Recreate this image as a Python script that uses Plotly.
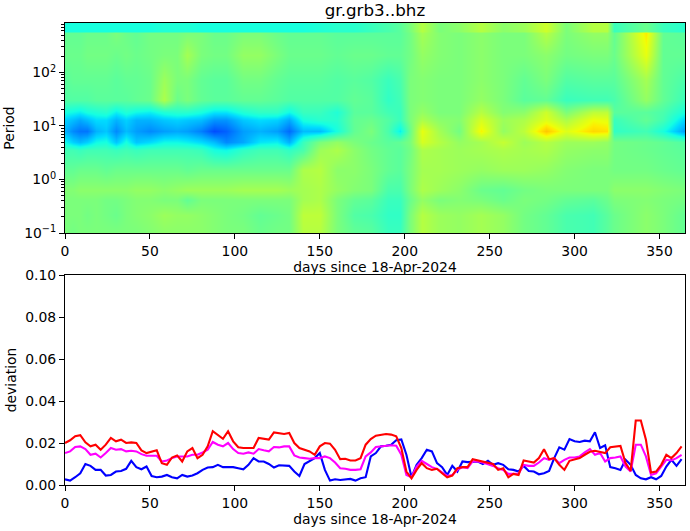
import plotly.graph_objects as go

TITLE = "gr.grb3..bhz"
XLABEL = "days since 18-Apr-2024"

# heatmap grid: columns in days, rows in period; values are colour positions in hundredths
grid_days = [0,5,9,13,18,24,30,36,42,50,58,66,72,80,88,95,105,115,125,132,140,150,160,170,180,190,197,203,210,220,232,245,258,270,283,295,311,319,323,342,352,365]
periods = [0.1,0.217,0.41,0.64,1.5,3.55,5,8.2,12.9,18,30,72,212,547,597,841]

r_p0_1 = [50,49,50,50,50,50,50,50,50,51,52,52,52,52,51,50,50,48,49,49,57,57,50,47,46,42,42,50,57,54,53,55,53,49,47,44,43,46,48,52,50,47]
r_p0_217 = [50,50,50,49,50,49,48,50,51,52,54,53,53,52,51,50,49,47,48,49,58,58,50,45,44,41,41,50,57,54,53,55,53,49,47,44,43,46,48,52,50,47]
r_p0_41 = [50,50,50,50,50,49,49,50,51,51,50,50,47,50,50,50,50,50,50,50,55,56,50,47,46,42,42,48,53,50,51,50,48,50,49,47,46,48,50,51,50,49]
r_p0_64 = [51,51,52,52,52,52,52,52,53,53,52,53,54,54,54,54,55,55,55,54,55,56,53,51,50,44,44,50,56,54,52,48,47,49,50,50,50,50,52,52,51,50]
r_p1_5 = [47,47,48,48,48,47,48,48,48,48,48,48,47,48,48,48,48,48,48,48,56,57,52,52,50,47,46,50,55,55,54,53,54,54,53,51,50,50,49,49,48,47]
r_p3_55 = [43,43,42,43,43,43,42,43,42,43,43,43,43,42,38,37,41,43,43,41,44,54,56,52,49,47,46,49,56,55,54,55,56,55,56,53,52,52,49,48,47,46]
r_p5 = [37,33,31,33,37,38,32,38,32,34,37,37,36,34,31,26,29,35,36,30,42,50,53,50,48,46,47,50,61,57,53,55,59,54,57,54,54,53,49,48,47,45]
r_p8_2 = [30,26,24,24,30,32,26,31,28,26,28,29,28,25,20,22,28,30,28,23,31,31,38,47,50,44,36,48,63,55,49,65,53,58,70,62,68,67,41,43,38,28]
r_p12_9 = [33,31,29,31,34,34,30,33,30,30,32,33,32,31,27,27,32,34,33,29,38,40,40,47,48,45,42,50,56,52,51,61,54,56,62,56,64,63,42,47,43,33]
r_p18 = [38,37,36,38,39,40,36,39,37,36,39,40,40,38,35,35,39,41,41,37,42,42,39,46,46,43,42,50,53,50,50,57,51,52,60,50,58,58,46,46,44,38]
r_p30 = [45,45,45,45,46,46,46,46,47,48,56,48,50,47,46,46,47,47,46,45,45,45,45,47,46,41,43,50,51,50,50,53,50,46,47,42,43,43,44,53,47,42]
r_p72 = [46,47,47,47,47,47,46,47,47,48,54,50,50,47,46,46,49,49,47,46,46,46,45,46,45,42,44,50,51,50,50,52,50,47,50,45,46,46,46,55,47,44]
r_p212 = [48,48,48,49,49,49,48,49,48,49,50,50,55,50,49,49,53,53,50,48,48,48,47,48,48,47,47,49,53,51,50,52,50,50,52,49,50,50,48,63,47,47]
r_p547 = [47,47,47,48,48,48,50,48,47,49,49,49,50,50,48,48,50,50,48,47,47,47,46,46,46,46,46,49,55,51,50,52,50,50,57,50,53,53,47,66,47,46]
r_p597 = [38,38,38,38,38,38,38,38,38,38,39,39,39,38,38,38,38,38,38,38,38,39,40,40,42,44,46,50,57,50,52,57,52,54,60,50,57,57,42,48,42,40]
r_p841 = [38,38,38,38,38,38,38,38,38,38,39,39,39,38,38,38,38,38,38,38,38,39,40,40,42,44,46,50,57,50,52,57,52,54,60,50,57,57,42,48,42,40]
grid_rows = [r_p0_1,r_p0_217,r_p0_41,r_p0_64,r_p1_5,r_p3_55,r_p5,r_p8_2,r_p12_9,r_p18,r_p30,r_p72,r_p212,r_p547,r_p597,r_p841]

# deviation curves, one sample every 3 days, values in thousandths
days = list(range(0, 364, 3))
blue_dev = [2.7,2.1,3.7,5.6,10,9.1,7.2,7.2,4.5,4.8,6.4,6.7,7.7,11.5,8.5,7.5,8.8,4.3,3.7,4,4.8,3.7,3.2,4.8,4,4.5,5.6,7.2,8.3,8.5,9.6,8.5,8.5,8.5,8,7.5,9.6,12.8,11.2,11.2,10,8.3,9.4,9.1,9.1,6.4,4.3,10,11.5,12.8,15.2,7.2,2.1,2.7,2.4,2.7,2.9,2.1,3.2,3.7,13.6,15.2,18.4,
18.7,19.2,21.3,21.7,14.4,3.7,9.6,12.8,16.8,16,10.4,8.5,4.8,9.1,6.4,11.2,10.9,11.2,11.2,10,11.5,9.6,10.4,9.6,7.5,7.2,6.4,9.1,6.7,6.4,5.1,5.6,6.7,12.8,17.9,16.8,21.9,20.8,20.5,21.1,20.8,25.1,17.6,18.9,8.5,8,7.2,12,9.6,4.8,3.2,2.7,3.7,2.7,4.3,8.8,12,9.1,12.3,15.2][:len(days)]
magenta_dev = [15.2,16,18.1,18.4,17.1,14.4,14.9,13.1,15.2,17.6,16.8,17.1,16,16.3,16,14.7,13.9,13.9,13.9,11.2,11.7,12.8,13.6,13.6,13.6,14.4,14.4,15.5,16.8,20.5,19.2,18.4,20,17.1,15.2,14.9,15.5,14.9,17.1,16.5,16,18.1,17.9,18.4,18.4,14.1,13.1,12.8,12.5,12.8,12.8,13.6,12.8,10.7,8,7.7,7.2,7.2,7.5,13.6,15.5,18.1,
18.4,18.7,18.9,18.7,14.4,4.8,3.7,8.8,11.5,10,8.5,7.7,5.9,4.3,4.8,7.2,8.5,8,11.2,11.2,10.7,10,9.1,8,7.2,5.3,5.3,5.3,9.6,9.1,9.1,10.7,12.8,12,12.8,10.4,12,13.1,13.1,13.6,15.5,17.1,14.4,15.2,11.2,12.8,13.1,13.6,8.8,6.4,19.2,19.2,13.6,4.8,5.6,9.1,12,11.7,12.8,14.4,16][:len(days)]
red_dev = [20,21.3,23.2,23.7,20.3,18.4,19.2,16.8,19.2,22.4,20.8,21.6,20,20.3,20,16.5,15.2,16,16.5,10.4,9.6,13.1,14.1,11.2,16,17.6,12.8,14.4,18.4,25.6,24,22,25.6,20.8,18,17.6,17.6,17.6,22.4,22,21.6,25,24.8,24.3,24.8,20,17.6,16.8,16,14.4,18.4,20,19.7,16.8,12.3,12.5,11.7,11.7,12.8,19.2,21.9,23.5,
24,24.3,24,23.2,17.6,6.4,3.2,7.2,10.4,8,7.2,7.7,5.6,3.7,4.5,8,8.5,8.5,12.3,11.7,11.2,10.7,10,7.2,8,3.7,5.3,4.8,11.7,11.2,10.7,12.8,17,12.3,12.8,9.6,7.2,11.5,12.3,12.8,14.4,15.8,16.3,15.8,15.2,18,18.4,18.6,10.4,6.7,30.7,30.7,21.6,5.9,6.4,9.6,14.4,12.8,15.2,18.4,20.5][:len(days)]

xticks = [0,50,100,150,200,250,300,350]
ytop_vals = [0.1,1,10,100]
ytop_text = ["10<sup>\u22121</sup>","10<sup>0</sup>","10<sup>1</sup>","10<sup>2</sup>"]
ytop_minor = [m*10**e for e in (-1,0,1,2) for m in (2,3,4,5,6,7,8,9) if m*10**e < 840]
ybot_vals = [0,0.02,0.04,0.06,0.08,0.1]
ybot_text = ["0.00","0.02","0.04","0.06","0.08","0.10"]

# matplotlib-style jet
JET = [[0,"rgb(0,0,127)"],[0.11,"rgb(0,0,255)"],[0.125,"rgb(0,0,255)"],[0.34,"rgb(0,219,255)"],[0.375,"rgb(20,255,226)"],
       [0.64,"rgb(238,255,8)"],[0.66,"rgb(255,234,0)"],[0.89,"rgb(255,30,0)"],[0.91,"rgb(232,0,0)"],[1,"rgb(127,0,0)"]]

W,H = 690,531
FONT = dict(family="DejaVu Sans", size=13.9, color="black")
TICK = dict(family="DejaVu Sans", size=13.9, color="black")

axis = dict(showgrid=False, zeroline=False, showline=True, mirror=True, linecolor="black", linewidth=1.1,
            ticks="outside", ticklen=5, tickwidth=1.1, tickcolor="black", tickfont=TICK)

fig = go.Figure()
fig.add_trace(go.Heatmap(x=grid_days, y=periods, z=[[v/100 for v in r] for r in grid_rows],
                         colorscale=JET, zmin=0, zmax=1, showscale=False, zsmooth="best",
                         xaxis="x", yaxis="y", hoverinfo="skip"))
for name, vals, col in (("blue",blue_dev,"#0000ff"),("magenta",magenta_dev,"#ff00ff"),("red",red_dev,"#ff0000")):
    fig.add_trace(go.Scatter(x=days, y=[v/1000 for v in vals], mode="lines", name=name,
                             line=dict(color=col,width=2.1), xaxis="x2", yaxis="y2", showlegend=False))

L,R,T,B = 65,685,23,485
fig.update_layout(
    width=W, height=H, autosize=False, paper_bgcolor="white", plot_bgcolor="white",
    margin=dict(l=L, r=W-R, t=T, b=H-B), font=FONT, showlegend=False,
    title=dict(text=TITLE, x=375/W, xanchor="center", y=1-10/H, yanchor="middle", font=dict(family="DejaVu Sans", size=16.7, color="black")),
    xaxis=dict(axis, domain=[0,1], anchor="y", range=[0,365], tickvals=xticks, ticktext=[str(v) for v in xticks],
               title=dict(text=XLABEL, font=FONT, standoff=4)),
    yaxis=dict(axis, domain=[(B-233)/(B-T), 1], anchor="x", type="log", range=[-1,2.925], tickvals=ytop_vals, ticktext=ytop_text,
               minor=dict(tickvals=ytop_minor, ticks="outside", ticklen=3, tickwidth=0.8, tickcolor="black"),
               title=dict(text="Period", font=FONT, standoff=6)),
    xaxis2=dict(axis, domain=[0,1], anchor="y2", range=[0,365], tickvals=xticks, ticktext=[str(v) for v in xticks],
                title=dict(text=XLABEL, font=FONT, standoff=4)),
    yaxis2=dict(axis, domain=[0,(B-275)/(B-T)], anchor="x2", range=[0,0.1], tickvals=ybot_vals, ticktext=ybot_text,
                title=dict(text="deviation", font=FONT, standoff=5)),
)
fig.write_html("out.html", config={"displayModeBar": False}, post_script="document.body.style.margin='0';")
